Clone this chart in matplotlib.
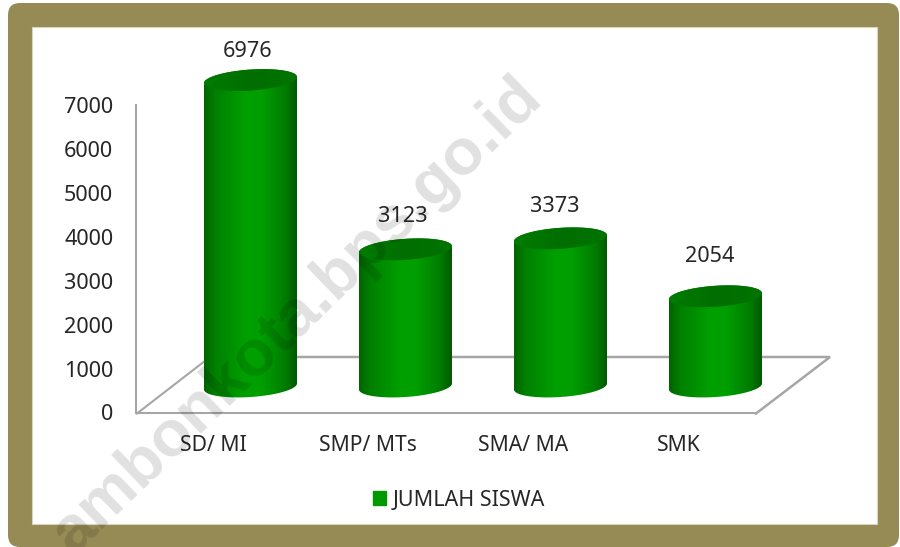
import numpy as np
import matplotlib
matplotlib.use('Agg')
import matplotlib.pyplot as plt
from matplotlib.colors import LinearSegmentedColormap
from matplotlib.patches import FancyBboxPatch, Rectangle, Polygon, Patch

categories = ['SD/ MI', 'SMP/ MTs', 'SMA/ MA', 'SMK']
jumlah_siswa = [6976, 3123, 3373, 2054]
y_ticks = [0, 1000, 2000, 3000, 4000, 5000, 6000, 7000]

W, H = 900, 547
FRAME = '#968A55'
GRID = '#A6A6A6'
TEXT = '#262626'

plt.rcParams['font.family'] = ['Noto Sans', 'DejaVu Sans']

fig = plt.figure(figsize=(W / 100, H / 100), dpi=100)
fig.patch.set_facecolor('white')

def px_axes(left, top, right, bottom, **kw):
    return fig.add_axes([left / W, 1 - bottom / H, (right - left) / W, (bottom - top) / H], **kw)

# frame and floor in pixel coords
bg = px_axes(0, 0, W, H, zorder=0)
bg.set_xlim(0, W)
bg.set_ylim(H, 0)
bg.axis('off')
bg.add_patch(FancyBboxPatch((8, 3), 891, 544, boxstyle='round,pad=0,rounding_size=12',
                            fc=FRAME, ec='none'))
bg.add_patch(Rectangle((32, 27), 845, 497, fc='white', ec='#D8D4BE', lw=0.8))
bg.plot([756, 830, 210], [413.5, 357, 357], color=GRID, lw=1.8, solid_joinstyle='miter')
bg.plot([137, 210], [413.5, 357], color=GRID, lw=1.5)

# front axis: ticks and category labels
ax = px_axes(135.5, 105, 756, 412.5, zorder=1)
ax.patch.set_alpha(0)
ax.set_xlim(-0.5, 3.5)
ax.set_ylim(0, 7000)
ax.set_xticks(range(len(categories)), categories)
ax.set_yticks(y_ticks)
ax.tick_params(length=0, colors=TEXT)
ax.tick_params(axis='x', pad=16, labelsize=15.2)
ax.tick_params(axis='y', pad=16, labelsize=15.6)
for s in ['top', 'right']:
    ax.spines[s].set_visible(False)
for s in ['left', 'bottom']:
    ax.spines[s].set_color(GRID)
    ax.spines[s].set_linewidth(1.5)

# cylinders sit on the floor, shifted back from the front axis
x_px = 620 / 4
y_px = 307.5 / 7000
pad_v = 1000
cy = px_axes(136 + 37, 79 - pad_v * y_px, 756 + 37, 386.5 + pad_v * y_px, zorder=2)
cy.patch.set_alpha(0)
cy.axis('off')

half_w = 46.5 / x_px
shear = 0.065
semi = 10.5
t = np.linspace(0, 2 * np.pi, 120)
body_cmap = LinearSegmentedColormap.from_list('body', [(0, '#006400'), (0.12, '#008000'), (0.45, '#00A000'),
                                                       (0.62, '#009E00'), (0.88, '#007C00'), (1, '#005A00')])
cap_cmap = LinearSegmentedColormap.from_list('cap', ['#007C00', '#006E00', '#007400'])
grad = np.linspace(0, 1, 200).reshape(1, -1)

def ellipse(i, v, t):
    c = np.cos(t)
    xs = i + half_w * c
    ys = v + (shear * 46.5 * c + semi * np.sin(t)) / y_px
    return np.column_stack([xs, ys])

for i, v in enumerate(jumlah_siswa):
    lower = ellipse(i, 0, np.linspace(np.pi, 2 * np.pi, 60))
    upper = ellipse(i, v, np.linspace(0, np.pi, 60))
    body = Polygon(np.vstack([lower, upper]), closed=True, fc='none', ec='none')
    cy.add_patch(body)
    im = cy.imshow(grad, cmap=body_cmap, aspect='auto', zorder=2,
                   extent=[i - half_w, i + half_w, -pad_v, v + pad_v])
    im.set_clip_path(body)
    cap = Polygon(ellipse(i, v, t), closed=True, fc='none', ec='none')
    cy.add_patch(cap)
    im2 = cy.imshow(grad, cmap=cap_cmap, aspect='auto', zorder=3,
                    extent=[i - half_w, i + half_w, v - pad_v, v + pad_v])
    im2.set_clip_path(cap)
cy.set_xlim(-0.5, 3.5)
cy.set_ylim(-pad_v, 7000 + pad_v)

# value labels
label_gap = [29, 33, 32, 40]
label_dx = [-3, -3, -6, -6]
for i, v in enumerate(jumlah_siswa):
    cy.annotate(str(v), (i, v), xytext=(label_dx[i] * 0.72, label_gap[i] * 0.72), textcoords='offset points',
                ha='center', va='center', fontsize=15.6, color=TEXT, annotation_clip=False, zorder=5)

# legend
fig.legend(handles=[Patch(fc='#009900', ec='#009900', label='JUMLAH SISWA')], loc='center',
           bbox_to_anchor=(459 / W, 1 - 500 / H), frameon=False, fontsize=15.5, labelcolor=TEXT,
           handlelength=0.6, handleheight=0.6, handletextpad=0.35)

# watermark over everything
fig.text(297 / W, 1 - 316 / H, 'ambonkota.bps.go.id', rotation=44, rotation_mode='anchor',
         ha='center', va='center', fontsize=47, fontweight='bold', color='black', alpha=0.12,
         family=['Liberation Sans', 'DejaVu Sans'], zorder=10)

fig.savefig('out.png', dpi=100)
